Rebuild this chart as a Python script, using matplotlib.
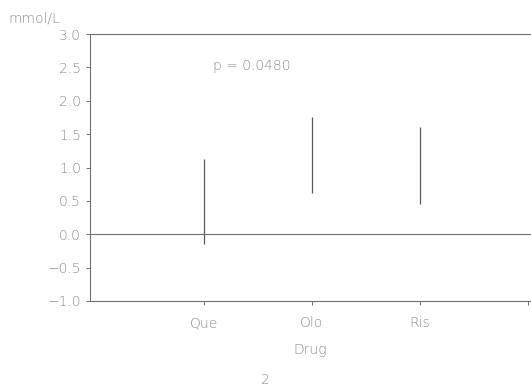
import matplotlib
matplotlib.use("Agg")
import matplotlib.pyplot as plt

drugs = ["Que", "Olo", "Ris"]
positions = [1, 2, 3]
low = [-0.15, 0.62, 0.45]
high = [1.12, 1.75, 1.60]
yticks = [-1.0, -0.5, 0.0, 0.5, 1.0, 1.5, 2.0, 2.5, 3.0]

grey = "#707070"
txt = "#8c8c8c"
plt.rcParams["font.family"] = "DejaVu Sans"
plt.rcParams["font.weight"] = "light"
plt.rcParams["axes.labelweight"] = "light"

fig = plt.figure(figsize=(5.31, 3.86), dpi=100)
ax = fig.add_axes([90 / 531, 1 - 301 / 386, 441 / 531, 267 / 386])

ax.vlines(positions, low, high, color="#5a5a5a", linewidth=0.9)
ax.axhline(0, color=grey, linewidth=0.8)

ax.set_xlim(-0.056, 4.03)
ax.set_ylim(-1.0, 3.0)
ax.set_yticks(yticks)
ax.set_yticklabels([f"{v:.1f}".replace("-", "\u2212") for v in yticks])
ax.set_xticks(positions + [4])
ax.set_xticklabels(drugs + [""])

for s in ["left", "top", "bottom"]:
    ax.spines[s].set_color(grey)
    ax.spines[s].set_linewidth(0.8)
ax.spines["right"].set_visible(False)

ax.tick_params(axis="both", colors=grey, labelcolor=txt, labelsize=10,
               length=3, width=0.7, direction="out")
ax.tick_params(axis="x", pad=8)

ax.set_xlabel("Drug", color=txt, fontsize=10, fontweight="light", labelpad=9)
ax.text(1.08, 2.52, "p = 0.0480", color=txt, fontsize=10, va="center")
fig.text(8 / 531, 1 - 18 / 386, "mmol/L", color=txt, fontsize=10, va="center")
fig.text(265 / 531, 1 - 380 / 386, "2", color=txt, fontsize=10, ha="center", va="center")

fig.savefig("out.png", dpi=100)
